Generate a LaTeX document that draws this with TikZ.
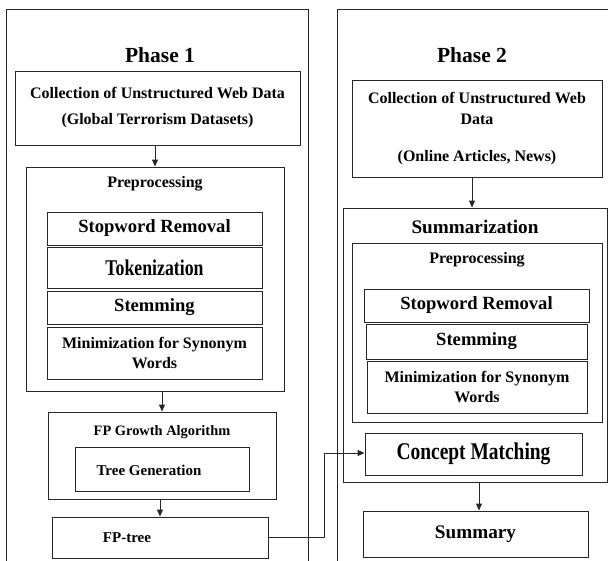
\documentclass[tikz,border=0pt]{standalone}
\usepackage{graphicx}
\usepackage{fontspec}
\setmainfont{Liberation Serif}
\usetikzlibrary{arrows.meta}
\begin{document}
\begin{tikzpicture}[x=1pt,y=-1pt,
  frame/.style={draw=black!85,line width=0.9pt,inner sep=0pt},
  box/.style={frame,align=center,font=\bfseries\fontsize{16}{18}\selectfont},
  stepbox/.style={frame,align=center,font=\bfseries\fontsize{18.6}{21}\selectfont},
  title/.style={inner sep=0pt,font=\bfseries\fontsize{21.5}{24}\selectfont},
  sub/.style={inner sep=0pt,font=\bfseries\fontsize{16}{18}\selectfont},
  big/.style={inner sep=0pt,font=\bfseries\fontsize{19.2}{22}\selectfont},
  arr/.style={draw=black!85,line width=0.9pt,-{Triangle[length=7pt,width=6pt]}}]
\useasboundingbox[fill=white] (0,0) rectangle (608,560);
\clip (0,0) rectangle (608,560);

% ---- phase frames (open at the page edges) ----
\node[frame,minimum width=302,minimum height=591] (p1) at (157.5,304.5) {};
\node[frame,minimum width=304,minimum height=591] (p2) at (489,304.5) {};
\node[title] (p1t) at (160,55) {Phase 1};
\node[title] (p2t) at (472,55) {Phase 2};

% ---- phase 1 ----
\node[box,minimum width=285,minimum height=74] (c1) at (157.5,108)
  {Collection of Unstructured Web Data\\[8pt](Global Terrorism Datasets)};
\node[frame,minimum width=258,minimum height=224] (pre1) at (155,279) {};
\node[sub] (pre1t) at (155,184) {Preprocessing};
\node[stepbox,minimum width=215,minimum height=33] (sw1) at (154.5,228.5) {Stopword Removal};
\node[stepbox,minimum width=215,minimum height=41,font=\bfseries\fontsize{22.5}{25}\selectfont] (tok1) at (154.5,267.5) {\scalebox{0.79}[1]{Tokenization}};
\node[stepbox,minimum width=215,minimum height=33] (st1) at (154.5,307.5) {Stemming};
\node[box,minimum width=215,minimum height=52] (mn1) at (154.5,353)
  {Minimization for Synonym\\[2pt]Words};
\node[frame,minimum width=228,minimum height=87] (fp1) at (162,455.5) {};
\node[sub,font=\bfseries\fontsize{14.4}{17}\selectfont] (fp1t) at (162,432) {FP Growth Algorithm};
\node[frame,minimum width=174,minimum height=44] (tg1) at (162,469) {};
\node[sub,font=\bfseries\fontsize{15}{17}\selectfont] (tg1t) at (149,470) {Tree Generation};
\node[frame,minimum width=216,minimum height=41] (fpt) at (160,537.5) {};
\node[sub,font=\bfseries\fontsize{15}{17}\selectfont] (fptt) at (127,538) {FP-tree};

% ---- phase 2 ----
\node[box,minimum width=250,minimum height=97] (c2) at (477,128.5)
  {Collection of Unstructured Web\\[3pt]Data\\[19pt](Online Articles, News)};
\node[frame,minimum width=264,minimum height=274] (sum) at (475,345) {};
\node[big] (sumt) at (475,227) {Summarization};
\node[frame,minimum width=250,minimum height=179] (pre2) at (477,332.5) {};
\node[sub] (pre2t) at (477,260) {Preprocessing};
\node[stepbox,minimum width=225,minimum height=33] (sw2) at (476.5,305.5) {Stopword Removal};
\node[stepbox,minimum width=221,minimum height=35] (st2) at (476.5,341.5) {Stemming};
\node[box,minimum width=220,minimum height=52] (mn2) at (477,387)
  {Minimization for Synonym\\[2pt]Words};
\node[frame,minimum width=217,minimum height=42,font=\bfseries\fontsize{24}{27}\selectfont] (cm) at (473.5,454) {\scalebox{0.81}[1]{Concept Matching}};
\node[frame,minimum width=225,minimum height=46,font=\bfseries\fontsize{19.2}{22}\selectfont] (smy) at (475.5,534) {Summary};

% ---- connectors ----
\draw[arr] ([xshift=-2.5pt]c1.south) -- ([xshift=-2.5pt]c1.south |- pre1.north);
\draw[arr] (fp1.north |- pre1.south) -- (fp1.north);
\draw[arr] (fpt.north |- fp1.south) -- (fpt.north);
\draw[arr] ([xshift=-5pt]c2.south) -- ([xshift=-5pt]c2.south |- sum.north);
\draw[arr] ([xshift=4pt]sum.south) -- ([xshift=4pt]sum.south |- smy.north);
\coordinate (bend) at (324,453);
\draw[arr] (fpt.east) -| (bend) -- (bend -| cm.west);
\end{tikzpicture}
\end{document}
